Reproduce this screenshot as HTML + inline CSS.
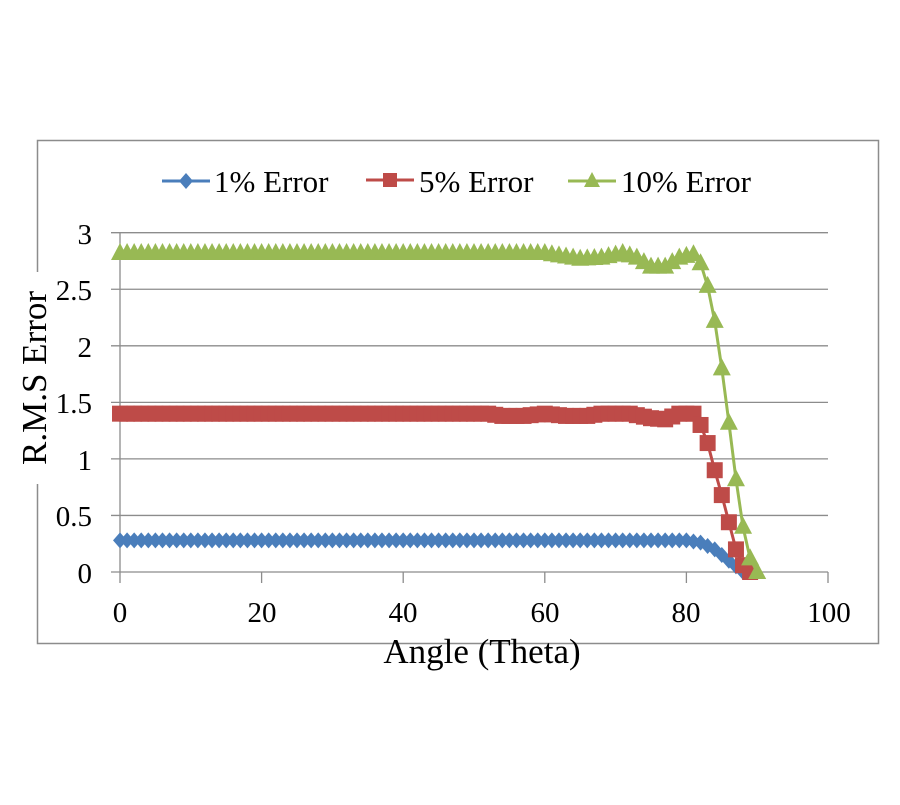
<!DOCTYPE html>
<html><head><meta charset="utf-8"><style>
body{margin:0;background:#fff;width:900px;height:800px;overflow:hidden}
svg text{font-family:"Liberation Serif",serif;fill:#000}
</style></head><body>
<svg id="s" width="900" height="800" xmlns="http://www.w3.org/2000/svg">
<rect x="37.5" y="140.5" width="841" height="503" fill="none" stroke="#8c8c8c" stroke-width="1.5"/>
<rect x="18" y="272" width="34" height="212" fill="#fff"/>
<g id="grid" stroke="#8c8c8c" stroke-width="1.3"></g>
<g id="series"></g>
<g font-size="29" text-anchor="end">
<text x="92" y="244">3</text><text x="92" y="300">2.5</text><text x="92" y="357">2</text>
<text x="92" y="413">1.5</text><text x="92" y="470">1</text><text x="92" y="526">0.5</text><text x="92" y="583">0</text>
</g>
<g font-size="29" text-anchor="middle">
<text x="120" y="622">0</text><text x="262" y="622">20</text><text x="403" y="622">40</text>
<text x="545" y="622">60</text><text x="686" y="622">80</text><text x="829" y="622">100</text>
</g>
<text x="482" y="663" font-size="35" text-anchor="middle">Angle (Theta)</text>
<text transform="translate(46,378) rotate(-90)" font-size="35" text-anchor="middle">R.M.S Error</text>
<g font-size="31">
<line x1="162" y1="181" x2="210" y2="181" stroke="#4a7ebb" stroke-width="3"/>
<path d="M186 173 L193 181 L186 189 L179 181Z" fill="#4a7ebb"/>
<text x="214" y="192">1% Error</text>
<line x1="366" y1="180" x2="414" y2="180" stroke="#be4b48" stroke-width="3"/>
<rect x="383" y="173" width="14" height="14" fill="#be4b48"/>
<text x="419" y="192">5% Error</text>
<line x1="568" y1="181" x2="616" y2="181" stroke="#98b954" stroke-width="3"/>
<path d="M592 172 L600 187 L584 187Z" fill="#98b954"/>
<text x="621" y="192">10% Error</text>
</g>
</svg>
<script>
const X=v=>120+v*7.08, Y=v=>572-v*113.1;
let g=document.getElementById('grid'),h='';
for(let i=1;i<=6;i++){let y=Y(i*0.5);h+=`<line x1="111" y1="${y}" x2="828" y2="${y}"/>`;}
h+=`<line x1="111" y1="572" x2="828" y2="572"/><line x1="120" y1="233" x2="120" y2="583"/>`;
for(let i=1;i<=5;i++){let x=X(i*20);h+=`<line x1="${x}" y1="572" x2="${x}" y2="583"/>`;}
g.innerHTML=h;
function interp(pts,x){for(let i=0;i<pts.length-1;i++){if(x>=pts[i][0]&&x<=pts[i+1][0]){let t=(x-pts[i][0])/(pts[i+1][0]-pts[i][0]);return pts[i][1]+t*(pts[i+1][1]-pts[i][1]);}}return pts[pts.length-1][1];}
const s1=[[0,0.28],[80,0.28],[82,0.26],[84,0.2],[86,0.1],[88,0.0]];
const s5=[[0,1.4],[52,1.4],[54,1.38],[57,1.38],[60,1.4],[63,1.38],[66,1.38],[68,1.4],[72,1.4],[75,1.36],[77,1.35],[79,1.4],[81,1.4],[82,1.3],[83,1.14],[84,0.9],[85,0.68],[86,0.44],[87,0.2],[88,0.06],[89,0.0]];
const s10=[[0,2.82],[60,2.82],[65,2.77],[68,2.78],[71,2.82],[73,2.78],[75,2.7],[77,2.7],[79,2.78],[81,2.81],[82,2.73],[83,2.53],[84,2.22],[85,1.8],[86,1.32],[87,0.82],[88,0.4],[89,0.12],[90,0.0]];
function ser(pts,max,col,mk){let p='',m='';for(let x=0;x<=max;x++){let v=interp(pts,x),px=X(x),py=Y(v);p+=(x?'L':'M')+px.toFixed(1)+' '+py.toFixed(1);
if(mk=='d')m+=`<path d="M${px} ${py-8}L${px+7} ${py}L${px} ${py+8}L${px-7} ${py}Z"/>`;
else if(mk=='s')m+=`<rect x="${px-8}" y="${py-8}" width="16" height="16"/>`;
else m+=`<path d="M${px} ${py-10}L${px+9} ${py+7}L${px-9} ${py+7}Z"/>`;}
return `<path d="${p}" fill="none" stroke="${col}" stroke-width="3"/><g fill="${col}">${m}</g>`;}
document.getElementById('series').innerHTML=ser(s1,88,'#4a7ebb','d')+ser(s5,89,'#be4b48','s')+ser(s10,90,'#98b954','t');
</script>
</body></html>
